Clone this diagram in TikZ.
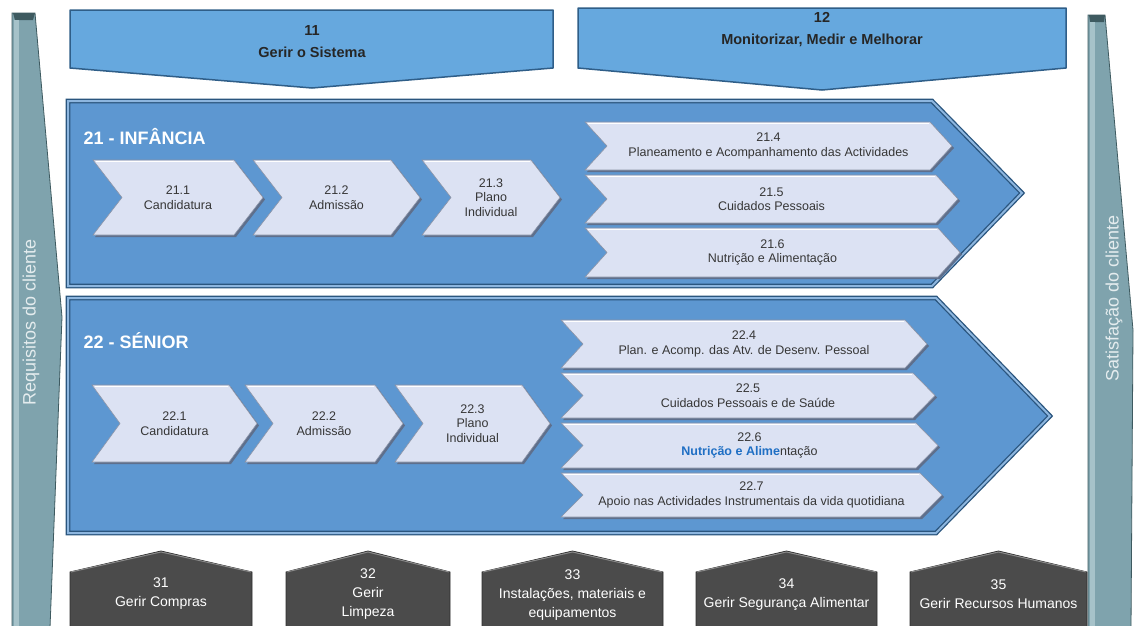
\documentclass[tikz,border=0pt]{standalone}
\usepackage{fontspec}
\setmainfont{Liberation Sans}
\usetikzlibrary{calc}
\definecolor{sidegray}{HTML}{7FA3AD}
\definecolor{sidedark}{HTML}{3E5A60}
\definecolor{sidelight}{HTML}{A6C2C9}
\definecolor{sidetxt}{HTML}{E4ECEE}
\definecolor{topblue}{HTML}{66A8DE}
\definecolor{topdark}{HTML}{2F5E88}
\definecolor{topink}{HTML}{262626}
\definecolor{areablue}{HTML}{5D97D1}
\definecolor{areadark}{HTML}{2A557E}
\definecolor{arealight}{HTML}{8DB6DF}
\definecolor{chevfill}{HTML}{DCE2F3}
\definecolor{chevedge}{HTML}{8B93A6}
\definecolor{chevshadow}{HTML}{5E6F8C}
\definecolor{chevink}{HTML}{363636}
\definecolor{housegray}{HTML}{4B4B4B}
\definecolor{houseedge}{HTML}{2E2E2E}
\definecolor{housetop}{HTML}{8A8A8A}
\definecolor{nutblue}{HTML}{1F6FC4}
\tikzset{
    sidebar/.style={fill=sidegray, draw=sidedark, line width=0.8pt},
    sidetext/.style={text=sidetxt, font=\fontsize{18}{18}\selectfont, rotate=90},
    topbox/.style={fill=topblue, draw=topdark, line width=1.5pt, line join=round},
    toptext/.style={text=topink, font=\bfseries\fontsize{14.5}{22}\selectfont, align=center},
    bigarrow/.style={fill=areablue, draw=areadark, line width=1.3pt, double=arealight, double distance=2pt},
    areatitle/.style={text=white, font=\bfseries\fontsize{18}{18}\selectfont, anchor=west},
    chevface/.style={fill=chevfill, draw=chevedge, line width=0.6pt},
    chevshade/.style={fill=chevshadow},
    chevlight/.style={draw=white, line width=1.6pt},
    chevtext/.style={text=chevink, font=\fontsize{12.5}{14.5}\selectfont, align=center},
    housebox/.style={fill=housegray, draw=houseedge, line width=0.8pt},
    houselight/.style={draw=housetop, line width=1pt},
    housetext/.style={text=white, font=\fontsize{14}{19}\selectfont, align=center}
}
\newcommand{\chevbox}[7]{%
    \fill[chevshade] ({#2+2},{#4+2}) -- ({#3-#6+2},{#4+2}) -- ({#3+2},{(#4+#5)/2+2}) -- ({#3-#6+2},{#5+2}) -- ({#2+2},{#5+2}) -- ({#2+#6+2},{(#4+#5)/2+2}) -- cycle;
    \draw[chevface] (#2,#4) -- ({#3-#6},#4) -- (#3,{(#4+#5)/2}) -- ({#3-#6},#5) -- (#2,#5) -- ({#2+#6},{(#4+#5)/2}) -- cycle;
    \draw[chevlight] ({#2+3},{#4+1.5}) -- ({#3-#6-1},{#4+1.5});
    \node[chevtext] (#1) at ({(#2+#3)/2},{(#4+#5)/2}) {#7};
}
\newcommand{\drawhouse}[5]{%
    \draw[housebox] (#2,628) -- (#2,572) -- ({(#2+#3)/2},551) -- (#3,572) -- (#3,628);
    \draw[houselight] ({#2+1},572) -- ({(#2+#3)/2},552) -- ({#3-1},572);
    \node[housetext] (#1) at ({(#2+#3)/2},#4) {#5};
}

\begin{document}
\begin{tikzpicture}[x=1pt,y=-1pt]
      \useasboundingbox (0,0) rectangle (1135,625);
      \fill[white] (0,0) rectangle (1135,625);

      \draw[sidebar] (12,13) -- (35,13) -- (62,317) -- (50,628) -- (12,628) -- cycle;
      \fill[sidedark] (13,13) -- (35,13) -- (33,20) -- (15,20) -- cycle;
      \fill[sidelight] (14,20) rectangle (19,627);
      \node[sidetext] (req) at (31,322) {Requisitos do cliente};

      \draw[sidebar] (1088,15) -- (1105,15) -- (1133,330) -- (1131,628) -- (1088,628) -- cycle;
      \fill[sidedark] (1089,15) -- (1105,15) -- (1104,22) -- (1090,22) -- cycle;
      \fill[sidelight] (1090,22) rectangle (1095,627);
      \node[sidetext] (sat) at (1114,298) {Satisfação do cliente};

      \draw[topbox] (70,10) -- (553,10) -- (553,68) -- (312,88) -- (70,68) -- cycle;
      \node[toptext] (sys) at (312,42) {11\\Gerir o Sistema};
      \draw[topbox] (578,8) -- (1066,8) -- (1066,68) -- (822,90) -- (578,68) -- cycle;
      \node[toptext] (mon) at (822,30) {12\\Monitorizar, Medir e Melhorar};

      \draw[bigarrow] (68,101) -- (932,101) -- (1022,193) -- (932,286) -- (68,286) -- cycle;
      \node[areatitle] (inf) at (80,137) {21 - INFÂNCIA};
      \chevbox{c211}{93}{263}{160}{235}{29}{21.1\\Candidatura}
      \chevbox{c212}{253}{420}{160}{235}{29}{21.2\\Admissão}
      \chevbox{c213}{422}{560}{160}{235}{29}{\fontsize{12.5}{12}\selectfont 21.3\\Plano\\Individual}
      \chevbox{c214}{585}{952}{122}{170}{22}{21.4\\Planeamento e Acompanhamento das Actividades}
      \chevbox{c215}{585}{958}{175}{223}{22}{21.5\\Cuidados Pessoais}
      \chevbox{c216}{585}{960}{228}{277}{22}{21.6\\Nutrição e Alimentação}

      \draw[bigarrow] (68,298) -- (936,298) -- (1050,416) -- (936,533) -- (68,533) -- cycle;
      \node[areatitle] (sen) at (80,341) {22 - SÉNIOR};
      \chevbox{c221}{92}{257}{385}{462}{28}{22.1\\Candidatura}
      \chevbox{c222}{245}{403}{385}{462}{28}{22.2\\Admissão}
      \chevbox{c223}{395}{550}{385}{462}{28}{\fontsize{12.5}{12}\selectfont 22.3\\Plano\\Individual}
      \chevbox{c224}{561}{927}{320}{368}{22}{22.4\\Plan. e Acomp. das Atv. de Desenv. Pessoal}
      \chevbox{c225}{561}{935}{373}{418}{22}{22.5\\Cuidados Pessoais e de Saúde}
      \chevbox{c226}{561}{938}{423}{468}{22}{22.6\\{\color{nutblue}\bfseries Nutrição e Alime}ntação}
      \chevbox{c227}{561}{942}{473}{517}{22}{22.7\\Apoio nas Actividades Instrumentais da vida quotidiana}

      \drawhouse{h31}{70}{252}{594}{31\\Gerir Compras}
      \drawhouse{h32}{286}{450}{594}{\fontsize{14}{18}\selectfont 32\\Gerir\\Limpeza}
      \drawhouse{h33}{482}{663}{595}{\fontsize{14}{19}\selectfont 33\\Instalações, materiais e\\equipamentos}
      \drawhouse{h34}{696}{877}{595}{34\\Gerir Segurança Alimentar}
      \drawhouse{h35}{910}{1087}{594}{35\\Gerir Recursos Humanos}
\end{tikzpicture}
\end{document}
